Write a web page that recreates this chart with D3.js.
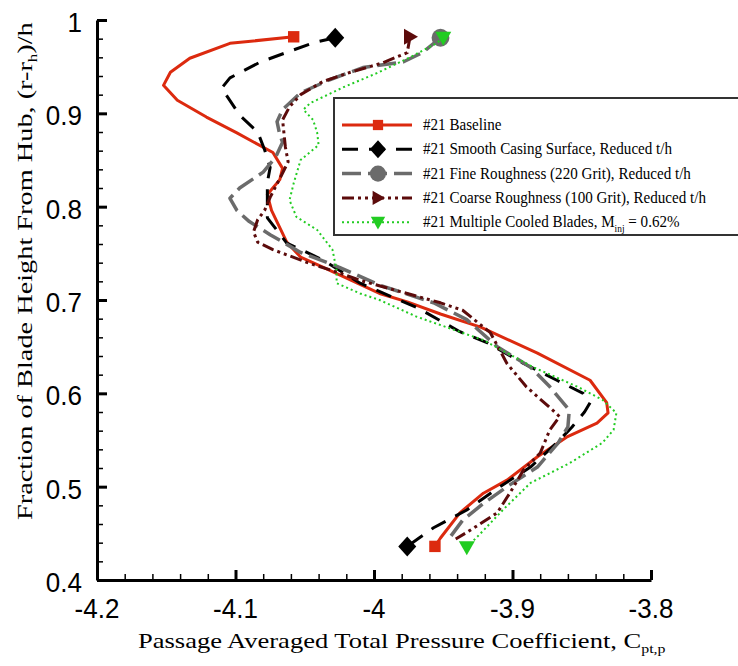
<!DOCTYPE html>
<html>
<head>
<meta charset="utf-8">
<script src="https://cdn.jsdelivr.net/npm/d3@7"></script>
<style>
  body { margin: 0; background: #fff; }
  .serif { font-family: "Liberation Serif", "DejaVu Serif", "Times New Roman", serif; fill: #000; }
  .sans { font-family: "Liberation Sans", Arial, sans-serif; fill: #000; }
</style>
</head>
<body>
<svg id="chart" width="738" height="666"></svg>
<script>
// axis ticks
var xTicks = [-4.2, -4.1, -4.0, -3.9, -3.8];
var xTickLabels = ["-4.2", "-4.1", "-4", "-3.9", "-3.8"];
var yTicks = [0.4, 0.5, 0.6, 0.7, 0.8, 0.9, 1.0];
var yTickLabels = ["0.4", "0.5", "0.6", "0.7", "0.8", "0.9", "1"];

// #21 Baseline
var baseCp = [-4.058, -4.104, -4.133, -4.147, -4.152, -4.142, -4.121, -4.099, -4.073, -4.066, -4.068, -4.077, -4.074, -4.063, -4.053, -4.035, -4.012, -3.996, -3.976, -3.952, -3.923, -3.882, -3.844, -3.832, -3.831, -3.839, -3.861, -3.882, -3.904, -3.921, -3.938, -3.952, -3.956];
var baseH  = [0.982, 0.975, 0.959, 0.944, 0.930, 0.914, 0.896, 0.879, 0.858, 0.841, 0.829, 0.813, 0.796, 0.762, 0.746, 0.734, 0.718, 0.707, 0.698, 0.685, 0.671, 0.643, 0.614, 0.590, 0.579, 0.568, 0.553, 0.532, 0.507, 0.493, 0.472, 0.445, 0.436];

// #21 Smooth Casing Surface, Reduced t/h
var smoothCp = [-4.028, -4.043, -4.058, -4.082, -4.104, -4.110, -4.097, -4.084, -4.079, -4.075, -4.077, -4.077, -4.077, -4.063, -4.037, -4.010, -3.988, -3.969, -3.938, -3.918, -3.892, -3.868, -3.849, -3.844, -3.848, -3.857, -3.868, -3.887, -3.909, -3.933, -3.957, -3.976];
var smoothH  = [0.981, 0.976, 0.968, 0.955, 0.938, 0.927, 0.898, 0.880, 0.861, 0.842, 0.826, 0.807, 0.788, 0.761, 0.743, 0.718, 0.704, 0.692, 0.666, 0.654, 0.632, 0.614, 0.600, 0.590, 0.580, 0.564, 0.547, 0.521, 0.500, 0.475, 0.456, 0.436];

// #21 Fine Roughness (220 Grit), Reduced t/h
var fineCp = [-3.952, -3.965, -3.979, -4.008, -4.032, -4.053, -4.066, -4.070, -4.068, -4.066, -4.071, -4.080, -4.097, -4.104, -4.099, -4.090, -4.075, -4.053, -4.025, -3.996, -3.957, -3.933, -3.911, -3.887, -3.873, -3.859, -3.860, -3.867, -3.882, -3.904, -3.921, -3.936, -3.945];
var fineH  = [0.981, 0.965, 0.955, 0.949, 0.936, 0.922, 0.904, 0.891, 0.877, 0.869, 0.853, 0.837, 0.820, 0.809, 0.796, 0.784, 0.770, 0.751, 0.735, 0.716, 0.697, 0.679, 0.650, 0.628, 0.607, 0.582, 0.564, 0.547, 0.521, 0.500, 0.482, 0.464, 0.446];

// #21 Coarse Roughness (100 Grit), Reduced t/h
var coarseCp = [-3.974, -3.976, -3.994, -4.017, -4.037, -4.053, -4.061, -4.066, -4.064, -4.062, -4.066, -4.075, -4.079, -4.084, -4.087, -4.084, -4.073, -4.048, -4.027, -4.010, -3.981, -3.952, -3.936, -3.916, -3.904, -3.890, -3.871, -3.866, -3.873, -3.880, -3.892, -3.902, -3.911, -3.933, -3.941];
var coarseH  = [0.982, 0.965, 0.954, 0.944, 0.934, 0.920, 0.907, 0.893, 0.864, 0.848, 0.836, 0.810, 0.796, 0.786, 0.773, 0.762, 0.754, 0.740, 0.730, 0.721, 0.709, 0.697, 0.689, 0.665, 0.632, 0.607, 0.582, 0.575, 0.561, 0.536, 0.518, 0.493, 0.472, 0.451, 0.444];

// #21 Multiple Cooled Blades
var cooledCp = [-3.950, -3.955, -3.974, -3.998, -4.022, -4.046, -4.051, -4.044, -4.041, -4.040, -4.053, -4.058, -4.061, -4.056, -4.041, -4.030, -4.027, -4.027, -4.010, -3.996, -3.969, -3.921, -3.885, -3.853, -3.835, -3.825, -3.827, -3.835, -3.859, -3.887, -3.907, -3.923, -3.933];
var cooledH  = [0.981, 0.975, 0.960, 0.943, 0.928, 0.911, 0.904, 0.893, 0.879, 0.866, 0.850, 0.825, 0.807, 0.789, 0.775, 0.754, 0.732, 0.718, 0.707, 0.700, 0.682, 0.657, 0.628, 0.607, 0.593, 0.579, 0.561, 0.547, 0.525, 0.504, 0.475, 0.450, 0.435];

var series = [
  {cp: baseCp,   h: baseH,   color: "#dc2a0f", width: 3,   dash: null,           marker: "square",    ends: [true, true]},
  {cp: smoothCp, h: smoothH, color: "#000000", width: 3,   dash: "16,11",        marker: "diamond",   ends: [true, true]},
  {cp: fineCp,   h: fineH,   color: "#6b6b6b", width: 3.5, dash: "19,7",         marker: "circle",    ends: [true, false]},
  {cp: coarseCp, h: coarseH, color: "#5c0b0b", width: 3,   dash: "12,4,3,4,3,4", marker: "triangleR", ends: [true, false]},
  {cp: cooledCp, h: cooledH, color: "#22cc22", width: 2,   dash: "2,3",          marker: "triangleD", ends: [true, true]}
];

var svg = d3.select("#chart");
svg.append("rect").attr("width", 738).attr("height", 666).attr("fill", "#fff");

var x = d3.scaleLinear().domain([-4.2, -3.8]).range([97, 651]);
var y = d3.scaleLinear().domain([0.4, 1.0]).range([580, 20]);

// stretch a text horizontally so it covers a given width (source fonts run wide)
function fitWidth(sel, target) {
  var w = sel.node().getBBox().width;
  return target / w;
}

// minor ticks every 0.02
var xMinor = d3.range(0, 21).map(function(i) { return -4.2 + i * 0.02; });
var yMinor = d3.range(0, 31).map(function(i) { return 0.4 + i * 0.02; });

svg.append("g")
    .attr("transform", "translate(0,580)")
    .call(d3.axisBottom(x).tickValues(xMinor).tickSize(-6).tickFormat(""))
    .call(function(g) { g.select(".domain").remove(); g.selectAll("line").attr("stroke-width", 1.5); });
svg.append("g")
    .attr("transform", "translate(97,0)")
    .call(d3.axisLeft(y).tickValues(yMinor).tickSize(-6).tickFormat(""))
    .call(function(g) { g.select(".domain").remove(); g.selectAll("line").attr("stroke-width", 1.5); });

var xAxis = svg.append("g")
    .attr("transform", "translate(0,580)")
    .call(d3.axisBottom(x).tickValues(xTicks).tickSize(-10).tickSizeOuter(0).tickFormat(""));
var yAxis = svg.append("g")
    .attr("transform", "translate(97,0)")
    .call(d3.axisLeft(y).tickValues(yTicks).tickSize(-10).tickSizeOuter(0).tickFormat(""));
[xAxis, yAxis].forEach(function(g) {
  g.select(".domain").attr("stroke-width", 3);
  g.selectAll(".tick line").attr("stroke-width", 3);
});

// tick labels
svg.append("g").selectAll("text")
    .data(xTicks)
    .enter().append("text")
    .attr("class", "sans")
    .attr("font-size", 26)
    .attr("text-anchor", "middle")
    .attr("transform", function(d) { return "translate(" + x(d) + ",618) scale(1,1.08)"; })
    .text(function(d, i) { return xTickLabels[i]; });
svg.append("g").selectAll("text")
    .data(yTicks)
    .enter().append("text")
    .attr("class", "sans")
    .attr("font-size", 26)
    .attr("text-anchor", "end")
    .attr("transform", function(d) { return "translate(82," + (y(d) + 12) + ") scale(1,1.08)"; })
    .text(function(d, i) { return yTickLabels[i]; });

// axis titles
var xTitle = svg.append("text")
    .attr("class", "serif")
    .attr("font-size", 20);
xTitle.append("tspan").text("Passage Averaged Total Pressure Coefficient, C");
xTitle.append("tspan").attr("font-size", 12).attr("dy", 5).text("pt,p");
xTitle.attr("transform", "translate(138,648) scale(" + fitWidth(xTitle, 528) + ",1.05)");

var yTitle = svg.append("text")
    .attr("class", "serif")
    .attr("font-size", 20);
yTitle.append("tspan").text("Fraction of Blade Height From Hub, (r-r");
yTitle.append("tspan").attr("font-size", 12).attr("dy", 5).text("h");
yTitle.append("tspan").attr("dy", -5).text(")/h");
yTitle.attr("transform", "translate(32,520) rotate(-90) scale(" + fitWidth(yTitle, 498) + ",1.05)");

// marker shapes
function markerPath(kind) {
  if (kind === "square") return d3.symbol(d3.symbolSquare, 130)();
  if (kind === "diamond") return "M0,-10L9,0L0,10L-9,0Z";
  if (kind === "circle") return d3.symbol(d3.symbolCircle, 250)();
  if (kind === "triangleR") return "M-6,-8L8,0L-6,8Z";
  return "M-8,-6L8,-6L0,8Z";
}

var line = d3.line()
    .x(function(d) { return x(d[0]); })
    .y(function(d) { return y(d[1]); });

var plot = svg.append("g");
series.forEach(function(s) {
  var pts = s.cp.map(function(c, i) { return [c, s.h[i]]; });
  plot.append("path")
      .datum(pts)
      .attr("d", line)
      .attr("fill", "none")
      .attr("stroke", s.color)
      .attr("stroke-width", s.width)
      .attr("stroke-dasharray", s.dash)
      .attr("stroke-linejoin", "round");
  var ends = [];
  if (s.ends[0]) ends.push(pts[0]);
  if (s.ends[1]) ends.push(pts[pts.length - 1]);
  plot.selectAll(null)
      .data(ends)
      .enter().append("path")
      .attr("d", markerPath(s.marker))
      .attr("transform", function(d) { return "translate(" + x(d[0]) + "," + y(d[1]) + ")"; })
      .attr("fill", s.color);
});

// legend
var legendNames = [
  ["#21 Baseline"],
  ["#21 Smooth Casing Surface, Reduced t/h"],
  ["#21 Fine Roughness (220 Grit), Reduced t/h"],
  ["#21 Coarse Roughness (100 Grit), Reduced t/h"],
  ["#21 Multiple Cooled Blades, M", "inj", " = 0.62%"]
];
var legend = svg.append("g");
legend.append("rect")
    .attr("x", 334).attr("y", 98).attr("width", 420).attr("height", 137)
    .attr("fill", "#fff").attr("stroke", "#333").attr("stroke-width", 2);

var rows = legend.selectAll(".row")
    .data(series)
    .enter().append("g")
    .attr("class", "row")
    .attr("transform", function(d, i) { return "translate(0," + (125 + i * 24.3) + ")"; });
rows.append("line")
    .attr("x1", 342).attr("x2", 412)
    .attr("stroke", function(d) { return d.color; })
    .attr("stroke-width", function(d) { return d.width; })
    .attr("stroke-dasharray", function(d) { return d.dash; });
rows.append("path")
    .attr("d", function(d) { return markerPath(d.marker); })
    .attr("transform", "translate(378,0) scale(0.9)")
    .attr("fill", function(d) { return d.color; });
var legendTexts = rows.append("text")
    .attr("class", "serif")
    .attr("font-size", 14.5)
    .each(function(d, i) {
      var t = d3.select(this);
      var parts = legendNames[i];
      t.append("tspan").text(parts[0]);
      if (parts.length > 1) {
        t.append("tspan").attr("font-size", 9).attr("dy", 4).text(parts[1]);
        t.append("tspan").attr("dy", -4).text(parts[2]);
      }
    });
// the coarse-roughness row spans 423..707 in the source
var legendScale = fitWidth(d3.select(legendTexts.nodes()[3]), 284);
legendTexts.attr("transform", "translate(423,5) scale(" + legendScale + ",1.2)");
</script>
</body>
</html>
